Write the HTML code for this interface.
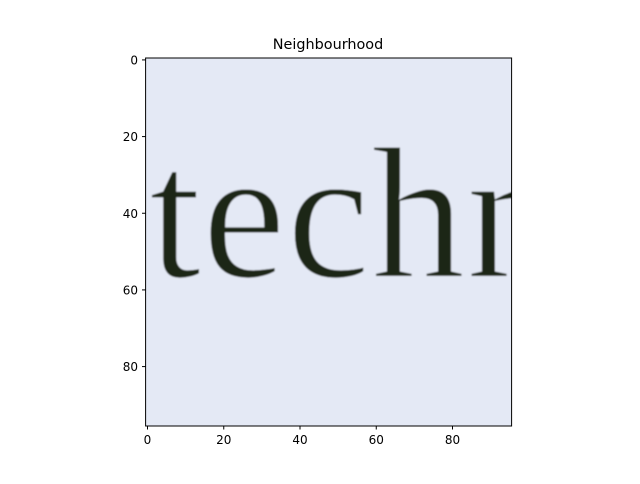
<!DOCTYPE html>
<html><head><meta charset="utf-8"><style>
body{margin:0;background:#fff;font-family:"DejaVu Sans","Liberation Sans",sans-serif}
</style></head><body>
<svg width="640" height="480" xmlns="http://www.w3.org/2000/svg">
<defs><clipPath id="ax"><rect x="145.6" y="58" width="366" height="368"/></clipPath>
<filter id="bl"><feGaussianBlur stdDeviation="0.9"/></filter></defs>
<text x="328" y="49" font-size="14.4" text-anchor="middle" font-family="DejaVu Sans, sans-serif">Neighbourhood</text>
<g clip-path="url(#ax)">
<rect x="145.6" y="58" width="366" height="368" fill="#e4e9f5"/>
<g filter="url(#bl)">
<text x="149" y="277" font-size="188" font-family="Liberation Serif, serif" fill="#1c2519" letter-spacing="1">techn</text>
<text x="149" y="277" font-size="188" font-family="Liberation Serif, serif" fill="none" stroke="#e4e9f5" stroke-width="2.2" letter-spacing="1">techn</text>
</g>
</g>
<rect x="145.6" y="58" width="366" height="368" fill="none" stroke="#000" stroke-width="1"/>
<g id="ticks" font-size="12" font-family="DejaVu Sans, sans-serif"></g>
<script>
const xTicks=[0,20,40,60,80];
const yTicks=[0,20,40,60,80];
const x0=145.6,y0=58,sx=366/96,sy=368/96;
const g=document.getElementById('ticks');
const ns='http://www.w3.org/2000/svg';
xTicks.forEach(v=>{const x=x0+(v+0.5)*sx;
 const l=document.createElementNS(ns,'line');l.setAttribute('x1',x);l.setAttribute('x2',x);l.setAttribute('y1',426);l.setAttribute('y2',429.5);l.setAttribute('stroke','#000');
 
 g.appendChild(l);
 const t=document.createElementNS(ns,'text');t.setAttribute('x',x);t.setAttribute('y',444);t.setAttribute('text-anchor','middle');t.textContent=v;
 
 g.appendChild(t);});
yTicks.forEach(v=>{const y=y0+(v+0.5)*sy;
 const l=document.createElementNS(ns,'line');l.setAttribute('x1',142);l.setAttribute('x2',145.6);l.setAttribute('y1',y);l.setAttribute('y2',y);l.setAttribute('stroke','#000');
 
 g.appendChild(l);
 const t=document.createElementNS(ns,'text');t.setAttribute('x',138);t.setAttribute('y',y+4.5);t.setAttribute('text-anchor','end');t.textContent=v;
 
 g.appendChild(t);});
</script>
</svg>
</body></html>
